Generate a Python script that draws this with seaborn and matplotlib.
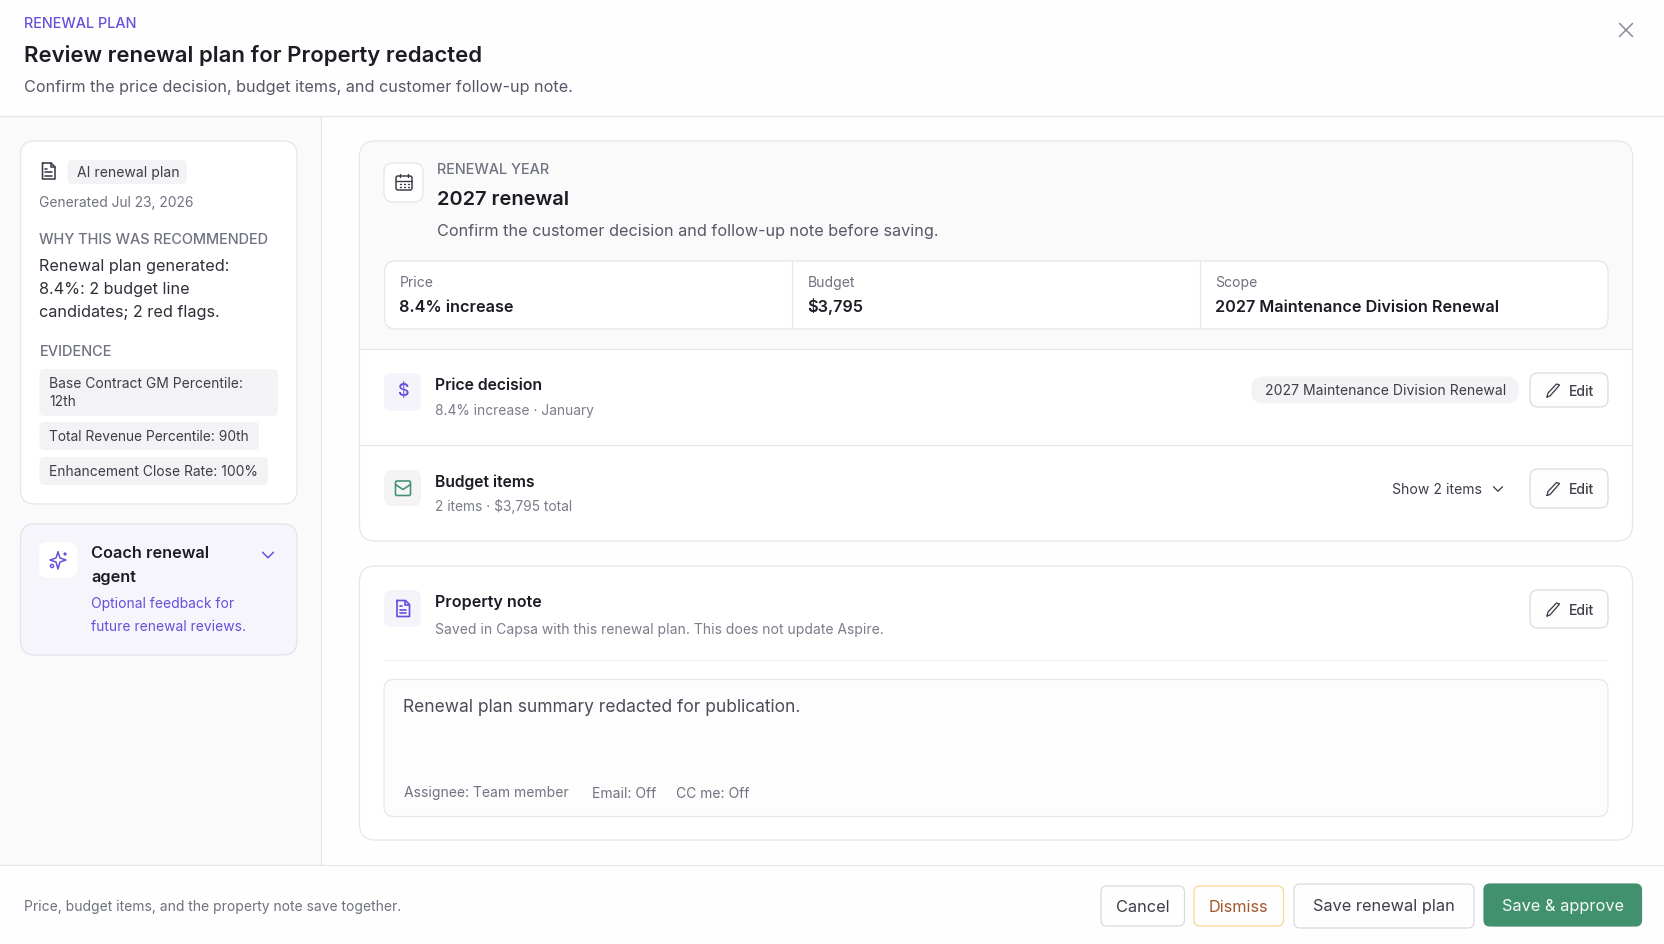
import matplotlib
matplotlib.use('Agg')
import matplotlib.pyplot as plt
from matplotlib.patches import FancyBboxPatch, Rectangle, Circle
import seaborn as sns

# text shown in the dialog
header_eyebrow = 'RENEWAL PLAN'
header_title = 'Review renewal plan for Property redacted'
header_sub = 'Confirm the price decision, budget items, and customer follow-up note.'
why_lines = ['Renewal plan generated:', '8.4%: 2 budget line', 'candidates; 2 red flags.']
evidence_items = ['Total Revenue Percentile: 90th', 'Enhancement Close Rate: 100%']
evidence_wrapped = ['Base Contract GM Percentile:', '12th']
coach_title = ['Coach renewal', 'agent']
coach_sub = ['Optional feedback for', 'future renewal reviews.']
stat_labels = ['Price', 'Budget', 'Scope']
stat_values = ['8.4% increase', '$3,795', '2027 Maintenance Division Renewal']
row_titles = ['Price decision', 'Budget items', 'Property note']
row_subs = ['8.4% increase · January', '2 items · $3,795 total',
            'Saved in Capsa with this renewal plan. This does not update Aspire.']
note_meta = ['Assignee: Team member', 'Email: Off', 'CC me: Off']
footer_buttons = ['Cancel', 'Dismiss', 'Save renewal plan', 'Save & approve']

INK = '#1b1c24'
BODY = '#3c3e49'
MUTED = '#6f7280'
PURPLE = '#6550dc'
LINE = '#e5e5ea'

sns.set_theme(style='white')
plt.rcParams['font.family'] = ['Inter', 'DejaVu Sans']

fig = plt.figure(figsize=(16.65, 9.44), dpi=100, facecolor='#fefefe')
ax = fig.add_axes([0, 0, 1, 1])
ax.set_xlim(0, 1665)
ax.set_ylim(944, 0)
ax.axis('off')


def box(x0, y0, x1, y1, r=0, fc='white', ec='none', lw=1.0, z=1):
    if r:
        p = FancyBboxPatch((x0, y0), x1 - x0, y1 - y0, boxstyle=f'round,pad=0,rounding_size={r}',
                           fc=fc, ec=ec, lw=lw * 0.72, zorder=z)
    else:
        p = Rectangle((x0, y0), x1 - x0, y1 - y0, fc=fc, ec=ec, lw=lw * 0.72, zorder=z)
    ax.add_patch(p)


def txt(x, y, s, px=14, color=BODY, weight='normal', ha='left'):
    ax.text(x, y, s, fontsize=px * 0.72, color=color, weight=weight, ha=ha, va='baseline', zorder=5)


def seg(xs, ys, color, lw=1.5):
    ax.plot(xs, ys, color=color, lw=lw * 0.72, solid_capstyle='round', solid_joinstyle='round', zorder=6)


def chevron(cx, cy, w, color, lw=1.5):
    seg([cx - w, cx, cx + w], [cy - w * 0.5, cy + w * 0.5, cy - w * 0.5], color, lw)


def doc_icon(cx, cy, color, lw=1.6):
    seg([cx - 6, cx + 2.5, cx + 6.5, cx + 6.5, cx - 6, cx - 6], [cy - 8, cy - 8, cy - 4, cy + 8, cy + 8, cy - 8], color, lw)
    seg([cx + 2.5, cx + 2.5, cx + 6.5], [cy - 8, cy - 4, cy - 4], color, lw)
    seg([cx - 3, cx + 3.5], [cy + 1, cy + 1], color, lw)
    seg([cx - 3, cx + 3.5], [cy + 4.5, cy + 4.5], color, lw)
    seg([cx - 3, cx - 1], [cy - 2.5, cy - 2.5], color, lw)


def pencil(cx, cy, color):
    seg([cx - 6, cx - 5, cx + 3.5, cx + 6.5, cx + 4, cx - 3, cx - 6],
        [cy + 7, cy + 3, cy - 6, cy - 5, cy - 2, cy + 6, cy + 7], color, 1.3)


# page regions
box(0, 116, 321, 864.5, fc='#fafafb')
seg([0, 1665], [115.5, 115.5], LINE, 1.2)
seg([321, 321], [116, 864.5], LINE, 1.2)
seg([0, 1665], [864.5, 864.5], LINE, 1.2)

# header
txt(24.5, 28, header_eyebrow, 14.4, PURPLE, 500)
txt(24.5, 62.5, header_title, 22.1, INK, 600)
txt(24.5, 92, header_sub, 16.2, '#555866')
seg([1619.5, 1632.5], [23.5, 36.5], '#858a94', 1.5)
seg([1619.5, 1632.5], [36.5, 23.5], '#858a94', 1.5)

# left card
box(20.5, 141, 297, 504, 14, 'white', LINE, 1.2)
doc_icon(48.5, 171, '#3c3e49')
box(67.5, 160, 187, 184, 5, '#f3f3f5')
txt(77, 177, 'AI renewal plan', 14, BODY)
txt(39.5, 207, 'Generated Jul 23, 2026', 13.8, MUTED)
txt(39.5, 244, 'WHY THIS WAS RECOMMENDED', 14.5, MUTED, 500)
for y, s in zip([271, 294, 317], why_lines):
    txt(39.5, y, s, 16.2, '#2e3039')
txt(39.5, 355.5, 'EVIDENCE', 14.6, MUTED, 500)
box(39.5, 369, 278, 416, 5, '#f3f3f5')
for y, s in zip([388, 406], evidence_wrapped):
    txt(49.5, y, s, 13.85, BODY)
box(39.5, 422, 259, 450, 5, '#f3f3f5')
txt(49.5, 441, evidence_items[0], 13.75, BODY)
box(39.5, 457, 268, 485, 5, '#f3f3f5')
txt(49.5, 476, evidence_items[1], 13.85, BODY)

# coach card
box(20.5, 524, 297, 655, 14, '#f6f5fc', '#e3e1ee', 1.2)
box(39, 542, 77, 578, 8, 'white')
seg([58, 60, 66, 60, 58, 56, 50, 56, 58], [552, 558, 560, 562, 569, 562, 560, 558, 552], PURPLE, 1.5)
ax.add_patch(Circle((65, 554), 1.6, fc=PURPLE, ec='none', zorder=6))
ax.add_patch(Circle((52, 566), 1.6, fc='none', ec=PURPLE, lw=1, zorder=6))
for y, s in zip([558, 582], coach_title):
    txt(91, y, s, 16.3, INK, 600)
chevron(268, 555, 5.5, PURPLE)
for y, s in zip([608, 631], coach_sub):
    txt(91, y, s, 13.85, PURPLE)

# main card, upper
box(359.5, 141, 1632.5, 541, 16, 'white', LINE, 1.2)
box(360.5, 142, 1631.5, 348.5, 15, '#fafafa', z=1.1)
box(360.5, 320, 1631.5, 348.5, fc='#fafafa', z=1.1)
seg([359.5, 1632.5], [348.5, 348.5], LINE, 1.2)
seg([359.5, 1632.5], [444.5, 444.5], LINE, 1.2)
box(384, 163, 423, 202, 9, 'white', LINE, 1.2, z=2)
# calendar
box(396, 176, 412, 190, 2, 'none', '#3c3e49', 1.5, z=6)
seg([396, 412], [180.5, 180.5], '#3c3e49', 1.4)
seg([400, 400], [173.5, 177], '#3c3e49', 1.4)
seg([408, 408], [173.5, 177], '#3c3e49', 1.4)
for gy in [183.5, 187]:
    for gx in [400, 404, 408]:
        seg([gx, gx + 0.6], [gy, gy], '#3c3e49', 1.4)
txt(437.5, 174, 'RENEWAL YEAR', 14.4, MUTED, 500)
txt(437.5, 205, '2027 renewal', 20, INK, 600)
txt(437.5, 236, 'Confirm the customer decision and follow-up note before saving.', 16.2, '#555866')

# stats row
box(384.5, 261, 1608, 329, 11, 'white', LINE, 1.2, z=2)
seg([792.5, 792.5], [261, 329], LINE, 1.2)
seg([1200.5, 1200.5], [261, 329], LINE, 1.2)
for x, label, value in zip([399.5, 807.5, 1215], stat_labels, stat_values):
    txt(x, 287, label, 14, MUTED)
    txt(x, 312, value, 16.2, INK, 600)

# rows
for y0, y1, fc in [(373, 411, '#f5f4fb'), (470, 506, '#f4f4f5')]:
    box(384, y0, 421, y1, 8, fc, z=2)
ax.text(402.5, 392, '$', fontsize=18 * 0.72, color=PURPLE, weight=500, ha='center', va='center', zorder=6)
box(395.5, 481, 410.5, 495.5, 1.5, 'none', '#3f9170', 1.6, z=6)
seg([395.5, 403, 410.5], [484.5, 489.5, 484.5], '#3f9170', 1.6)
for y, title, px in zip([390, 487, 607], row_titles, [15.8, 15.7, 16.1]):
    txt(435, y, title, px, INK, 600)
for y, s, px in zip([415, 511, 634], row_subs, [13.8, 13.75, 13.95]):
    txt(435, y, s, px, '#7a7d8a')

box(1251, 376.5, 1519, 403.5, 13, '#f3f3f5', z=2)
txt(1265, 395, stat_values[2], 14, BODY)
txt(1392.5, 494, 'Show 2 items', 14, BODY)
chevron(1498, 489, 4.5, BODY, 1.3)
for y0, y1, base in [(373, 407, 395.5), (469, 508, 494), (590, 628, 615)]:
    box(1530, y0, 1608, y1, 8, '#fefefe', '#d9d9e0', 1.2, z=2)
    pencil(1553, (y0 + y1) / 2, BODY)
    txt(1568.5, base, 'Edit', 14, BODY, 500)

# property note card
box(359.5, 566, 1632.5, 840, 16, 'white', LINE, 1.2)
box(384, 590, 421, 627, 8, '#f5f4fb', z=2)
doc_icon(403, 608.5, PURPLE, 1.7)
seg([384, 1608], [660, 660], '#f0f0f3', 1.0)
box(384, 679.5, 1608, 816.5, 10, '#fdfdfd', LINE, 1.2, z=2)
txt(403.5, 712, 'Renewal plan summary redacted for publication.', 17.4, '#4a4c58')
for x, s in zip([404, 592.5, 676], note_meta):
    txt(x, 797.5, s, 13.9, MUTED)

# footer
txt(24.5, 911, 'Price, budget items, and the property note save together.', 13.9, MUTED)
btn_x = [(1101, 1184.5), (1194, 1283.5), (1294, 1474), (1484, 1641.5)]
btn_y = [(886, 926), (886, 926), (884, 928), (884, 926)]
btn_fc = ['#fefefe', '#fefefe', '#fefefe', '#41916e']
btn_ec = ['#d9d9e0', '#f5d78a', '#d9d9e0', '#41916e']
btn_tc = ['#3c3e49', '#a5562f', '#3c3e49', '#f8fbf9']
for (x0, x1), (y0, y1), fc, ec, tc, s in zip(btn_x, btn_y, btn_fc, btn_ec, btn_tc, footer_buttons):
    box(x0, y0, x1, y1, 6, fc, ec, 1.2, z=2)
    txt((x0 + x1) / 2, 911.5, s, 16.3, tc, 'normal', ha='center')

fig.savefig('out.png', dpi=100, facecolor=fig.get_facecolor())
